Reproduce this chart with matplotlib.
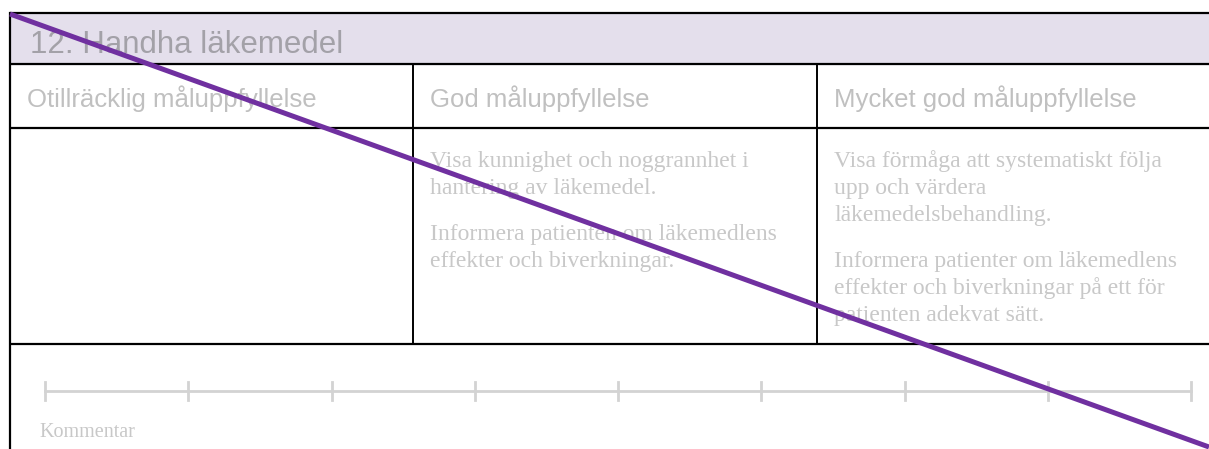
import matplotlib.pyplot as plt
import numpy as np

# Form content
title = "12. Handha läkemedel"
levels = ["Otillräcklig måluppfyllelse", "God måluppfyllelse", "Mycket god måluppfyllelse"]
criteria = [
    [],
    [["Visa kunnighet och noggrannhet i", "hantering av läkemedel."],
     ["Informera patienten om läkemedlens", "effekter och biverkningar."]],
    [["Visa förmåga att systematiskt följa", "upp och värdera", "läkemedelsbehandling."],
     ["Informera patienter om läkemedlens", "effekter och biverkningar på ett för",
      "patienten adekvat sätt."]],
]
scale_steps = 9
comment_label = "Kommentar"

# Diagonal strike-through (x, y in pixels)
strike_x = [10, 1209]
strike_y = [14, 447]

W, H = 1209, 449
fig = plt.figure(figsize=(W / 100, H / 100), dpi=100)
ax = fig.add_axes([0, 0, 1, 1])
ax.set_xlim(0, W)
ax.set_ylim(H, 0)
ax.axis('off')

left, right = 10, W + 5
col_x = [left, 413, 817, right]
row_y = [13, 64, 128, 344]

# Header band
ax.fill_between([left, right], row_y[0], row_y[1], color='#e4dfec', zorder=0)
ax.text(30, 53, title, fontsize=22.5, color='#a3a1a8', va='baseline', ha='left',
        family='Liberation Sans')

# Grid lines
for y in row_y:
    ax.plot([left, right], [y, y], color='black', lw=1.6, solid_capstyle='butt')
ax.plot([left, left], [row_y[0], H + 5], color='black', lw=1.6)
for x in col_x[1:3]:
    ax.plot([x, x], [row_y[1], row_y[3]], color='black', lw=1.4)

# Level headers and criteria text
for i, lev in enumerate(levels):
    x0 = col_x[i] + 17
    ax.text(x0, 107.5, lev, fontsize=18.5, color='#c0c0c0', va='baseline', ha='left',
            family='Liberation Sans')
    y = 167
    for para in criteria[i]:
        for line in para:
            ax.text(x0, y, line, fontsize=17, color='#c8c8c8', va='baseline',
                    ha='left', family='Liberation Serif')
            y += 27
        y += 19

# Rating scale
ticks = np.linspace(45, 1191, scale_steps)
ax.plot([ticks[0], ticks[-1]], [391, 391], color='#d3d3d3', lw=2)
for t in ticks:
    ax.plot([t, t], [382, 400], color='#d3d3d3', lw=2)
ax.text(39, 437, comment_label, fontsize=14.5, color='#c8c8c8', va='baseline', ha='left',
        family='Liberation Serif')

# Strike-through
ax.plot(strike_x, strike_y, color='#7030a0', lw=3.6, solid_capstyle='butt', zorder=5)

fig.savefig('out.png', dpi=100)
